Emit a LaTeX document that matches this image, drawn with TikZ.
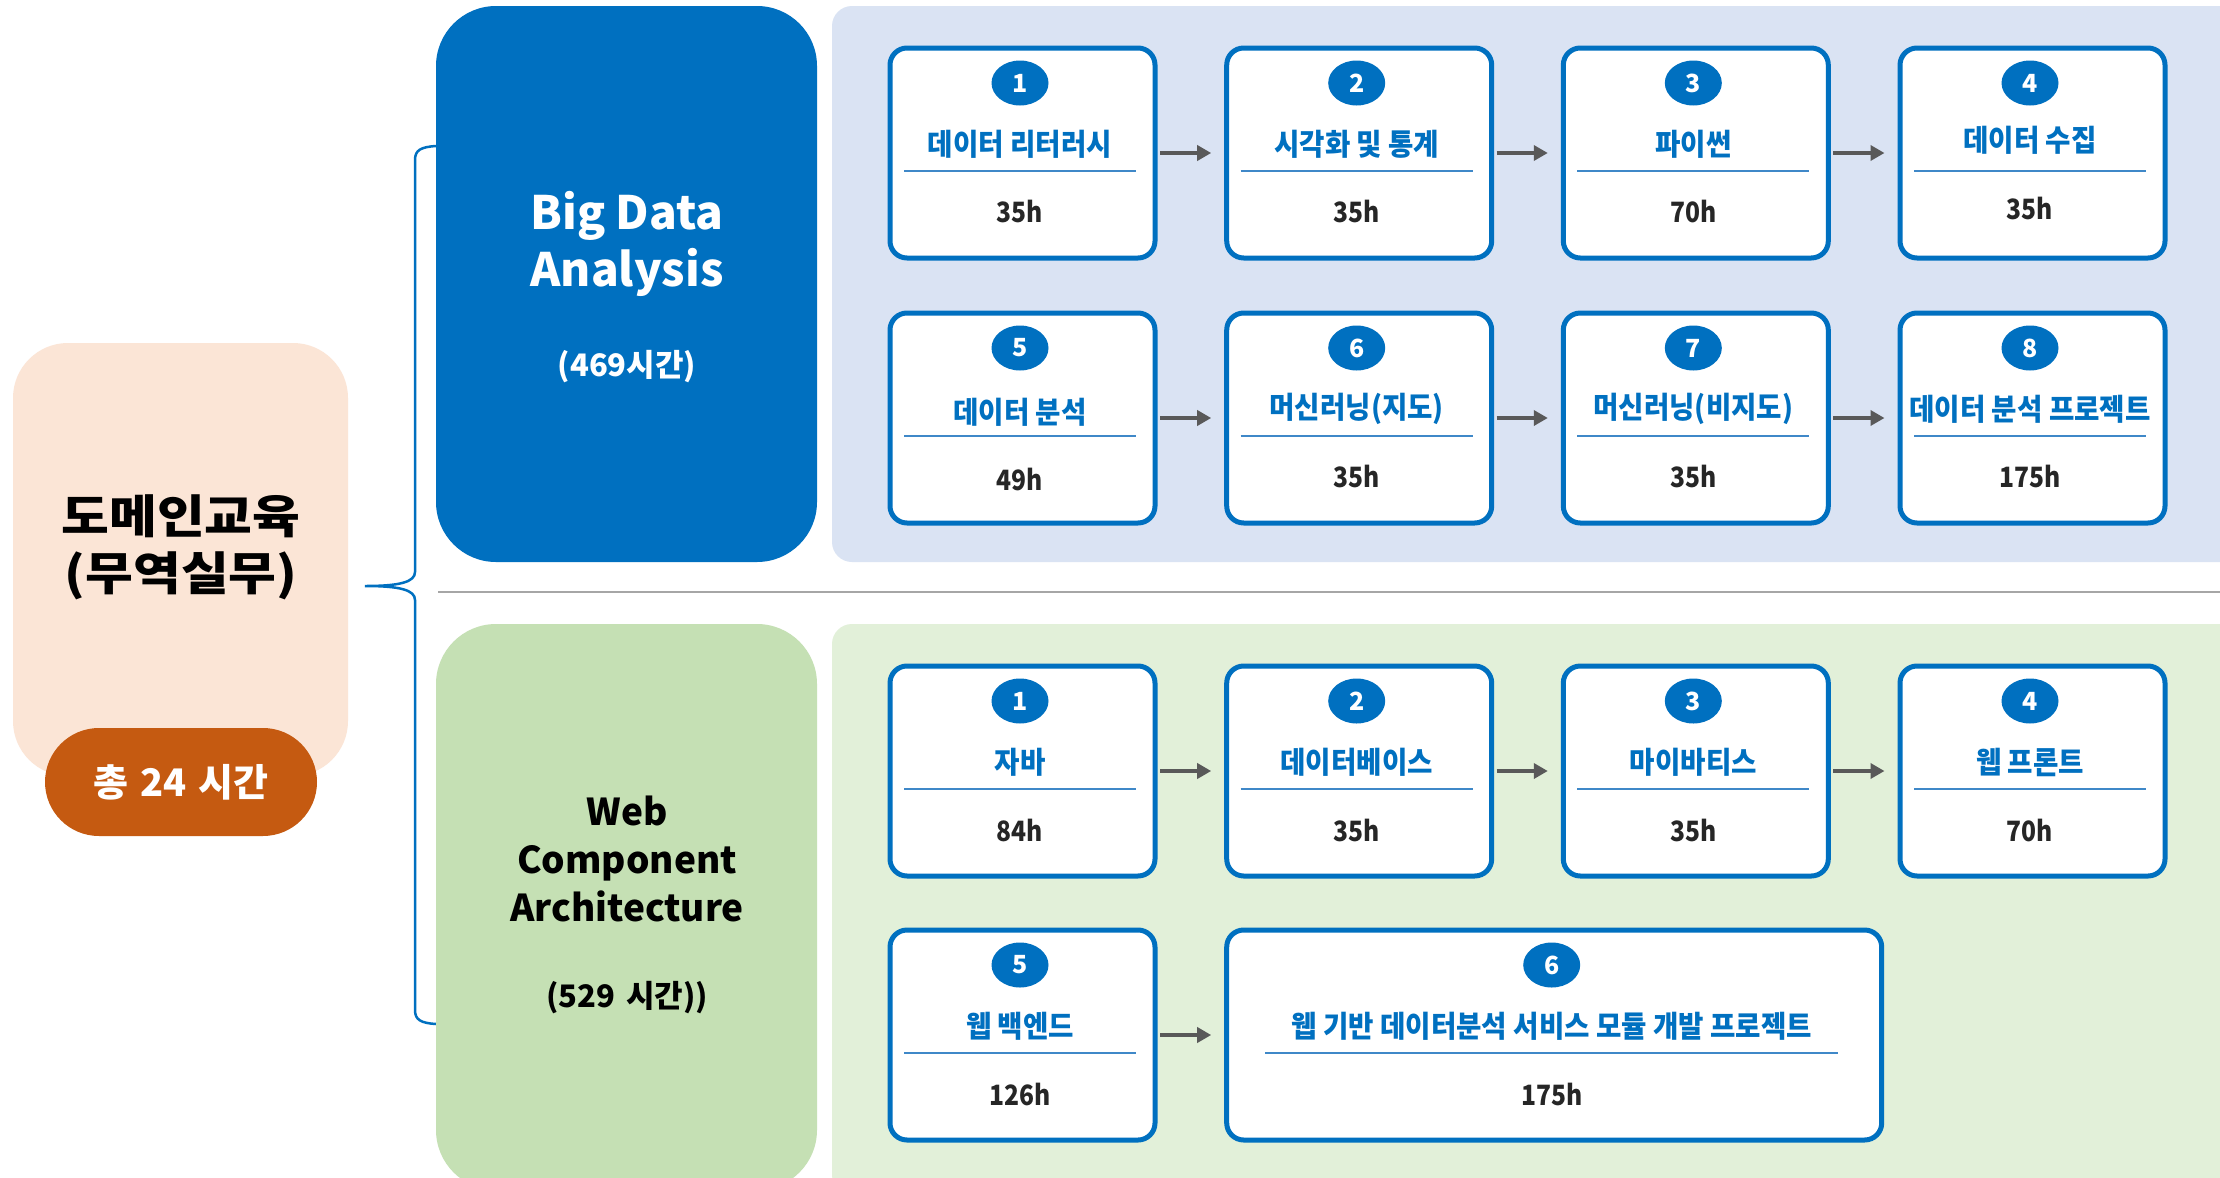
\documentclass[tikz,border=0pt]{standalone}
\usepackage{fontspec}
\setmainfont{Noto Sans CJK KR}
\newfontfamily\cnd{Noto Sans CJK KR}[FakeStretch=0.92]
\newfontfamily\cndh{Noto Sans CJK KR}[FakeStretch=0.88]
\newfontfamily\widefont{Noto Sans CJK KR}[FakeStretch=1.13]
\usetikzlibrary{arrows.meta,shapes.geometric}
\definecolor{mblue}{HTML}{0070C0}
\definecolor{lblue}{HTML}{3F88C8}
\definecolor{panelb}{HTML}{DAE3F3}
\definecolor{panelg}{HTML}{E2F0D9}
\definecolor{boxg}{HTML}{C5E0B4}
\definecolor{peach}{HTML}{FBE5D6}
\definecolor{orng}{HTML}{C55A11}
\definecolor{agray}{HTML}{595959}
\definecolor{hgray}{HTML}{262626}
\definecolor{sepg}{HTML}{A6A6A6}
\tikzset{
  stepbox/.style={draw=mblue, line width=5pt, fill=white, rounded corners=17pt,
    minimum height=210pt, inner sep=0pt, anchor=north west},
  numc/.style={ellipse, fill=mblue, minimum width=57pt, minimum height=45pt, inner sep=0pt, text=white,
    font=\bfseries\fontsize{25}{25}\selectfont},
  ttl/.style={text=mblue, inner sep=0pt, font=\cnd\bfseries\fontsize{30}{32}\selectfont},
  hrs/.style={text=hgray, inner sep=0pt, font=\cndh\bfseries\fontsize{28}{30}\selectfont},
  subline/.style={draw=lblue, line width=1.8pt},
  flow/.style={draw=agray, line width=3.5pt, -{Triangle[length=14pt,width=15pt]},
    shorten <=2.5pt, shorten >=13pt},
  bigbox/.style={rounded corners=60pt},
  panel/.style={rounded corners=20pt},
}
% name, x, y, width, line inset, number, title, hours, text shift
\newcommand\stp[9]{%
  \node[stepbox, minimum width=#4pt] (#1) at (#2,#3) {};
  \node[numc] (#1n) at ({#2+#4/2},{#3+37.5}) {#6};
  \node[ttl] (#1t) at ({#2+#4/2},{#3+98.5+#9}) {#7};
  \draw[subline] ({#2+#5},{#3+125.5}) -- ({#2+#4-#5},{#3+125.5});
  \node[hrs] (#1h) at ({#2+#4/2},{#3+166.5+#9}) {#8};
}
\begin{document}
\begin{tikzpicture}[x=1pt,y=-1pt]
\useasboundingbox (0,0) rectangle (2220,1178);
\fill[white] (0,0) rectangle (2220,1178);
% left group
\fill[peach, rounded corners=55pt] (13,343) rectangle (348,776);
\node[align=center, inner sep=0pt, font=\widefont\bfseries\fontsize{46}{57}\selectfont] (dom) at (181,547) {도메인교육\\(무역실무)};
\node[fill=orng, rounded corners=54pt, minimum width=272pt, minimum height=108pt, inner sep=0pt,
  text=white, font=\bfseries\fontsize{38}{40}\selectfont] (tot) at (181,782) {총\hspace{12pt}24\hspace{12pt}시간};
% brace
\draw[mblue, line width=2.5pt] (436,146) .. controls (421,147) and (415,150) .. (415,160)
  -- (415,572) .. controls (415,582) and (400,586) .. (365,586)
  .. controls (400,586) and (415,590) .. (415,600)
  -- (415,1010) .. controls (415,1020) and (421,1023) .. (436,1024);
% separator
\draw[sepg, line width=1.5pt] (438,592) -- (2220,592);
% big boxes
\fill[mblue, bigbox] (436,6) rectangle (817,562);
\node[align=center, inner sep=0pt, text=white, font=\bfseries\fontsize{46}{57}\selectfont] (bda) at (627,244) {Big Data\\Analysis};
\node[inner sep=0pt, text=white, font=\bfseries\fontsize{31}{33}\selectfont] (bdh) at (627,367) {(469시간)};
\fill[boxg, bigbox] (436,624) rectangle (817,1190);
\node[align=center, inner sep=0pt, text=black, font=\bfseries\fontsize{37}{48}\selectfont] (wca) at (627,859) {Web\\Component\\Architecture};
\node[inner sep=0pt, text=black, font=\bfseries\fontsize{31}{33}\selectfont] (wch) at (627,998) {(529\hspace{4pt} 시간))};
% panels
\fill[panelb, panel] (832,6) rectangle (2245,562);
\fill[panelg, panel] (832,624) rectangle (2245,1195);
% steps: Big Data
\stp{a1}{887.5}{45.5}{265}{16.5}{1}{데이터 리터러시}{35h}{0}
\stp{a2}{1224.2}{45.5}{265}{16.5}{2}{시각화 및 통계}{35h}{0}
\stp{a3}{1560.8}{45.5}{265}{16.5}{3}{파이썬}{70h}{0}
\stp{a4}{1897.5}{45.5}{265}{16.5}{4}{데이터 수집}{35h}{-3.5}
\stp{a5}{887.5}{310.5}{265}{16.5}{5}{데이터 분석}{49h}{3}
\stp{a6}{1224.2}{310.5}{265}{16.5}{6}{머신러닝(지도)}{35h}{0}
\stp{a7}{1560.8}{310.5}{265}{16.5}{7}{머신러닝(비지도)}{35h}{0}
\stp{a8}{1897.5}{310.5}{265}{16.5}{8}{데이터 분석 프로젝트}{175h}{0}
% steps: Web
\stp{b1}{887.5}{663.5}{265}{16.5}{1}{자바}{84h}{0}
\stp{b2}{1224.2}{663.5}{265}{16.5}{2}{데이터베이스}{35h}{0}
\stp{b3}{1560.8}{663.5}{265}{16.5}{3}{마이바티스}{35h}{0}
\stp{b4}{1897.5}{663.5}{265}{16.5}{4}{웹 프론트}{70h}{0}
\stp{b5}{887.5}{927.5}{265}{16.5}{5}{웹 백엔드}{126h}{0}
\stp{b6}{1224.2}{927.5}{655}{41}{6}{웹 기반 데이터분석 서비스 모듈 개발 프로젝트}{175h}{0}
% arrows
\foreach \p/\q in {a1/a2,a2/a3,a3/a4,a5/a6,a6/a7,a7/a8,b1/b2,b2/b3,b3/b4,b5/b6}
  \draw[flow] (\p.east) -- (\q.west);
\end{tikzpicture}
\end{document}
